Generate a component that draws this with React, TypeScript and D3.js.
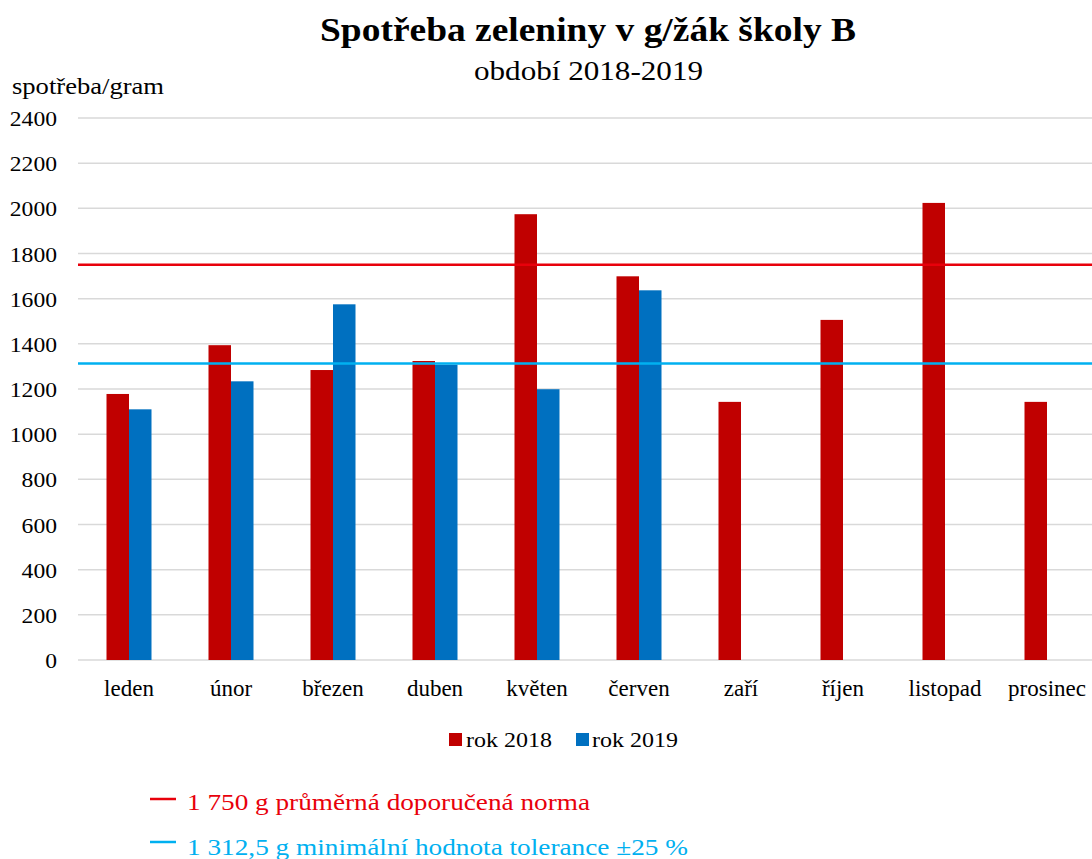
import React from "react";
import * as d3 from "d3";

const months = ["leden", "únor", "březen", "duben", "květen", "červen", "zaří", "říjen", "listopad", "prosinec"];
const values2018 = [1178, 1394, 1284, 1324, 1974, 1699, 1143, 1506, 2024, 1143];
const values2019: (number | null)[] = [1110, 1234, 1575, 1308, 1199, 1637, null, null, null, null];
const yTicks = [0, 200, 400, 600, 800, 1000, 1200, 1400, 1600, 1800, 2000, 2200, 2400];
const seriesNames = ["rok 2018", "rok 2019"];
const normValue = 1750;
const minValue = 1312.5;

const W = 1092;
const H = 859;
const FONT = "'Liberation Serif', 'Times New Roman', serif";
const RED = "#C00000";
const BLUE = "#0070C0";
const LINE_RED = "#E8000B";
const LINE_BLUE = "#00B0F0";

export default function App() {
  const x = d3.scaleBand<string>().domain(months).range([78, 1098]).paddingInner(0).paddingOuter(0);
  const y = d3.scaleLinear().domain([0, 2400]).range([660, 118]);
  const barW = 22.5;
  const sub = d3.scaleBand<string>().domain(seriesNames).range([-barW, barW]);

  return (
    <svg width={W} height={H} style={{ position: "absolute", left: 0, top: 0, background: "#fff" }} fontFamily={FONT}>
      <rect x={0} y={0} width={W} height={H} fill="#fff" />
      {/* Title */}
      <text x={588} y={41} textAnchor="middle" fontSize={34} fontWeight="bold" fill="#000" textLength={536} lengthAdjust="spacingAndGlyphs">
        Spotřeba zeleniny v g/žák školy B
      </text>
      <text x={588.5} y={80} textAnchor="middle" fontSize={27} fill="#000" textLength={229} lengthAdjust="spacingAndGlyphs">
        období 2018-2019
      </text>
      <text x={12} y={94} fontSize={23} fill="#000" textLength={152} lengthAdjust="spacingAndGlyphs">
        spotřeba/gram
      </text>

      {/* Grid */}
      {yTicks.map((t) => (
        <g key={t}>
          <line x1={78} x2={W} y1={y(t)} y2={y(t)} stroke="#d9d9d9" strokeWidth={1.5} />
          <text x={57} y={y(t) + 8} textAnchor="end" fontSize={22} fill="#000" textLength={String(t).length * 11.8} lengthAdjust="spacingAndGlyphs">
            {t}
          </text>
        </g>
      ))}

      {/* Bars */}
      {months.map((m, i) => {
        const cx = (x(m) as number) + x.bandwidth() / 2;
        const v1 = values2018[i];
        const v2 = values2019[i];
        return (
          <g key={m}>
            <rect x={cx + (sub("rok 2018") as number)} y={y(v1)} width={sub.bandwidth()} height={y(0) - y(v1)} fill={RED} />
            {v2 != null && (
              <rect x={cx + (sub("rok 2019") as number)} y={y(v2)} width={sub.bandwidth()} height={y(0) - y(v2)} fill={BLUE} />
            )}
            <text x={cx} y={696} textAnchor="middle" fontSize={23} fill="#000">
              {m}
            </text>
          </g>
        );
      })}

      {/* Reference lines */}
      <line x1={78} x2={W} y1={y(normValue)} y2={y(normValue)} stroke={LINE_RED} strokeWidth={2.5} />
      <line x1={78} x2={W} y1={y(minValue)} y2={y(minValue)} stroke={LINE_BLUE} strokeWidth={2.5} />

      {/* Legend */}
      <rect x={449} y={733} width={13} height={13} fill={RED} />
      <text x={466} y={747} fontSize={22} fill="#000" textLength={86} lengthAdjust="spacingAndGlyphs">{seriesNames[0]}</text>
      <rect x={576} y={733} width={13} height={13} fill={BLUE} />
      <text x={592} y={747} fontSize={22} fill="#000" textLength={86} lengthAdjust="spacingAndGlyphs">{seriesNames[1]}</text>

      {/* Bottom notes */}
      <line x1={150} x2={176} y1={799} y2={799} stroke={LINE_RED} strokeWidth={2.5} />
      <text x={187} y={810} fontSize={24} fill={LINE_RED} textLength={403} lengthAdjust="spacingAndGlyphs">
        1 750 g průměrná doporučená norma
      </text>
      <line x1={150} x2={176} y1={842} y2={842} stroke={LINE_BLUE} strokeWidth={2.5} />
      <text x={187} y={855} fontSize={24} fill={LINE_BLUE} textLength={501} lengthAdjust="spacingAndGlyphs">
        1 312,5 g minimální hodnota tolerance ±25 %
      </text>
    </svg>
  );
}
